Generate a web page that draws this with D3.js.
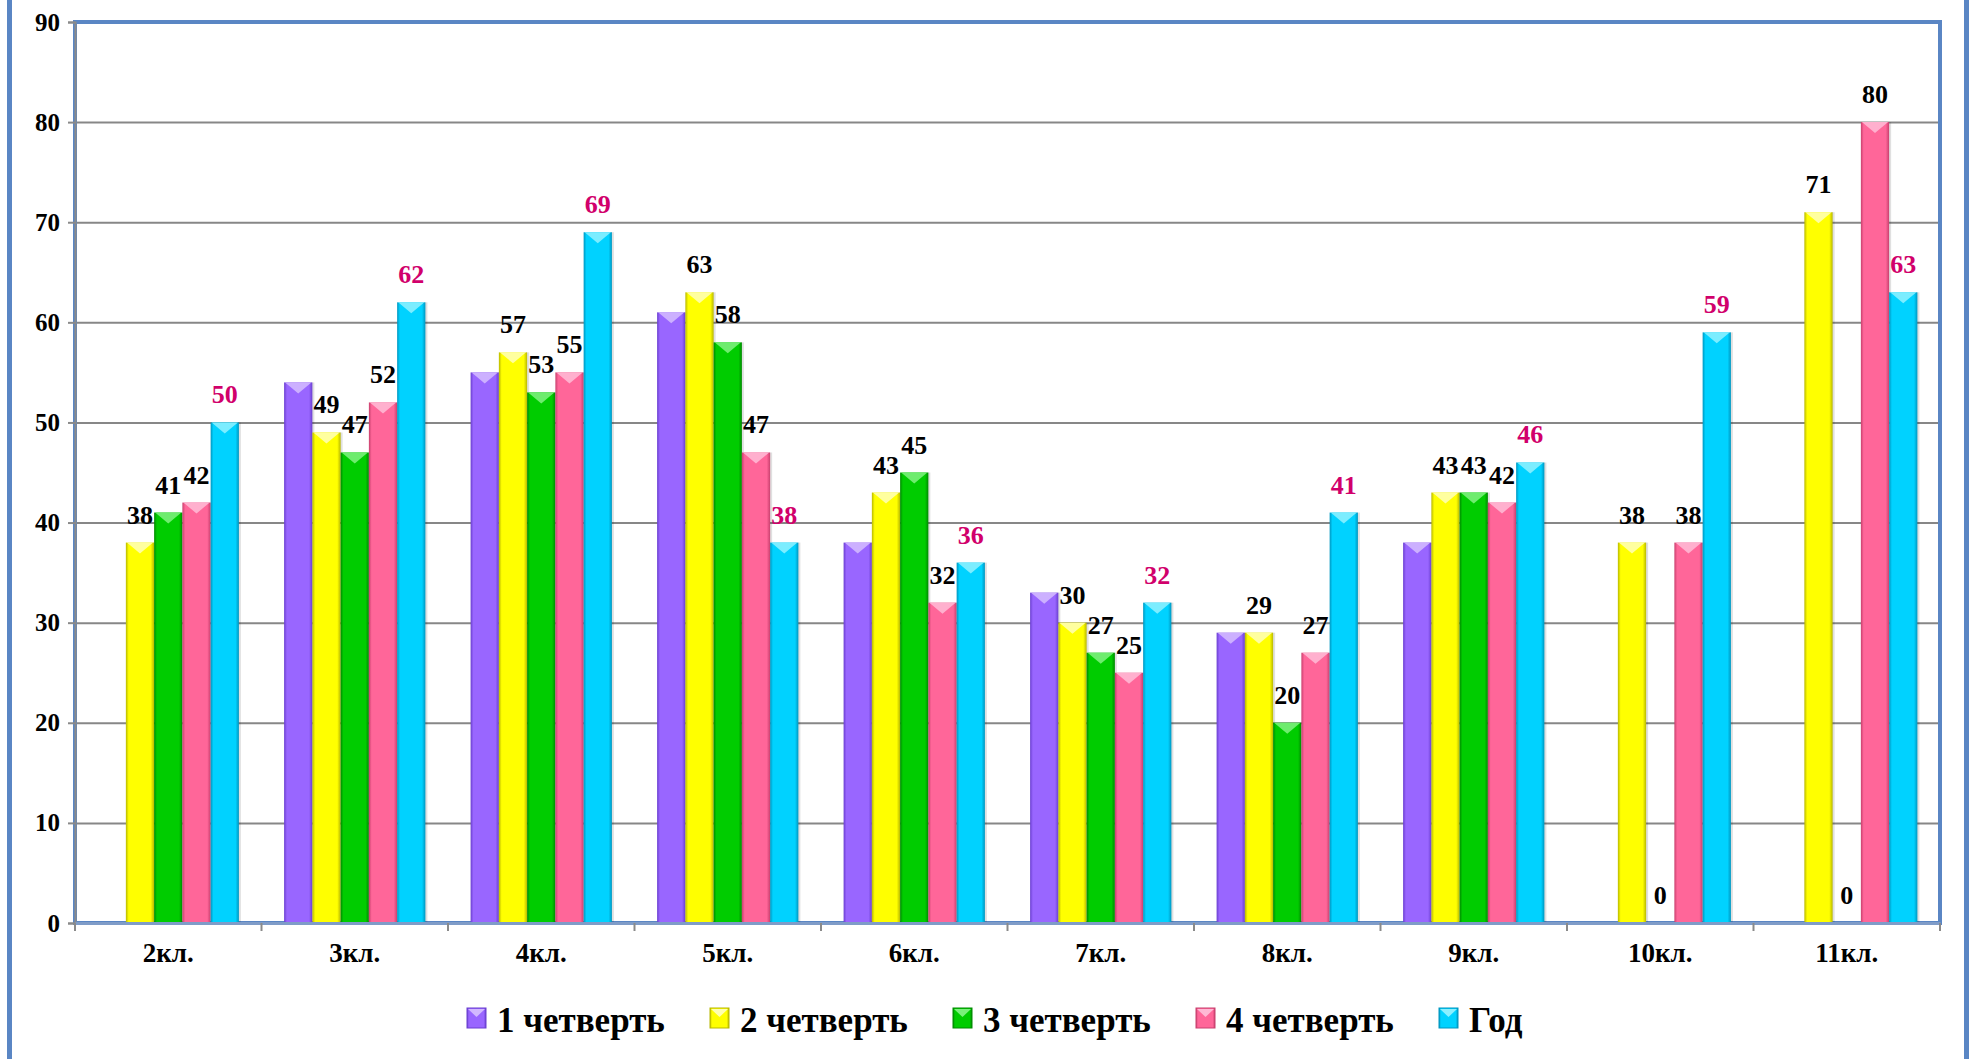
<!DOCTYPE html>
<html>
<head>
<meta charset="utf-8">
<script src="https://cdn.jsdelivr.net/npm/d3@7"></script>
<style>
  body { margin: 0; background: #fff; }
  svg { display: block; }
  text { font-family: "Liberation Serif", "Times New Roman", serif; font-weight: bold; }
</style>
</head>
<body>
<div id="chart"></div>
<script>
var categories = ["2кл.", "3кл.", "4кл.", "5кл.", "6кл.", "7кл.", "8кл.", "9кл.", "10кл.", "11кл."];
var seriesNames = ["1 четверть", "2 четверть", "3 четверть", "4 четверть", "Год"];
var q1 = [null, 54, 55, 61, 38, 33, 29, 38, null, null];
var q2 = [38, 49, 57, 63, 43, 30, 29, 43, 38, 71];
var q3 = [41, 47, 53, 58, 45, 27, 20, 43, 0, 0];
var q4 = [42, 52, 55, 47, 32, 25, 27, 42, 38, 80];
var year = [50, 62, 69, 38, 36, 32, 41, 46, 59, 63];
var yTicks = [0, 10, 20, 30, 40, 50, 60, 70, 80, 90];

var seriesValues = [q1, q2, q3, q4, year];
var colors = ["#9966ff", "#ffff00", "#00cc00", "#ff6699", "#00d2ff"];
var darks = ["#6a3fd0", "#b8b800", "#008a00", "#c8406e", "#0096c0"];
var lights = ["#d2b8ff", "#ffffb0", "#7af07a", "#ffb8d4", "#8af0ff"];

var width = 1970,
    height = 1059,
    pLeft = 75, pRight = 1940, pTop = 22, pBottom = 923;

var svg = d3.select("#chart")
    .append("svg")
    .attr("width", width)
    .attr("height", height);

var defs = svg.append("defs");
colors.forEach(function (c, i) {
    var g = defs.append("linearGradient")
        .attr("id", "grad" + i)
        .attr("x1", "0").attr("x2", "1").attr("y1", "0").attr("y2", "0");
    g.append("stop").attr("offset", "0").attr("stop-color", darks[i]);
    g.append("stop").attr("offset", "0.1").attr("stop-color", c);
    g.append("stop").attr("offset", "0.88").attr("stop-color", c);
    g.append("stop").attr("offset", "1").attr("stop-color", darks[i]);
});

// outer frame lines
svg.append("rect").attr("x", 7).attr("y", 0).attr("width", 5).attr("height", height).attr("fill", "#5a86c4");
svg.append("rect").attr("x", 1964).attr("y", 0).attr("width", 5).attr("height", height).attr("fill", "#5a86c4");

var x0 = d3.scaleBand()
    .domain(categories)
    .range([pLeft, pRight])
    .padding(0);

var x1 = d3.scaleBand()
    .domain(seriesNames)
    .range([0, x0.bandwidth()])
    .paddingInner(0)
    .paddingOuter(0.8);

var y = d3.scaleLinear()
    .domain([0, 90])
    .range([pBottom, pTop]);

// gridlines
svg.append("g")
    .attr("transform", "translate(" + pLeft + ",0)")
    .call(d3.axisLeft(y).tickValues(yTicks).tickSize(-(pRight - pLeft)).tickFormat(""))
    .call(function (g) {
        g.select(".domain").remove();
        g.selectAll("line").attr("stroke", "#878787").attr("stroke-width", 2);
    });

// plot frame
svg.append("rect")
    .attr("x", pLeft).attr("y", pTop)
    .attr("width", pRight - pLeft).attr("height", pBottom - pTop)
    .attr("fill", "none")
    .attr("stroke", "#5a86c4")
    .attr("stroke-width", 4);

// y axis
svg.append("g")
    .attr("transform", "translate(" + pLeft + ",0)")
    .call(d3.axisLeft(y).tickValues(yTicks).tickSize(7).tickPadding(8))
    .call(function (g) {
        g.select(".domain").attr("stroke", "#8a8a8a").attr("stroke-width", 2);
        g.selectAll("line").attr("stroke", "#8a8a8a").attr("stroke-width", 2);
        g.selectAll("text")
            .attr("fill", "#000")
            .style("font-size", "25px")
            .style("font-family", "'Liberation Serif', serif")
            .style("font-weight", "bold");
    });

// bars
var groups = svg.selectAll("g.cat")
    .data(categories)
    .enter().append("g")
    .attr("class", "cat")
    .attr("transform", function (d) { return "translate(" + x0(d) + ",0)"; });

var bars = groups.selectAll("g.bar")
    .data(function (d, ci) {
        return seriesNames.map(function (s, si) {
            return { series: s, si: si, value: seriesValues[si][ci] };
        });
    })
    .enter().append("g")
    .attr("class", "bar")
    .filter(function (d) { return d.value !== null && d.value > 0; });

bars.append("rect")
    .attr("x", function (d) { return x1(d.series) + 2; })
    .attr("y", function (d) { return y(d.value); })
    .attr("width", x1.bandwidth())
    .attr("height", function (d) { return pBottom - y(d.value); })
    .attr("fill", "#000")
    .attr("opacity", 0.12);

bars.append("rect")
    .attr("x", function (d) { return x1(d.series); })
    .attr("y", function (d) { return y(d.value); })
    .attr("width", x1.bandwidth())
    .attr("height", function (d) { return pBottom - y(d.value); })
    .attr("fill", function (d) { return "url(#grad" + d.si + ")"; });

// bevel highlight on top of each bar
bars.append("path")
    .attr("d", function (d) {
        var bx = x1(d.series), bw = x1.bandwidth(), by = y(d.value);
        return "M" + (bx + 1) + "," + by + "L" + (bx + bw - 1) + "," + by +
            "L" + (bx + bw / 2) + "," + (by + 11) + "Z";
    })
    .attr("fill", function (d) { return lights[d.si]; })
    .attr("opacity", 0.9);

// x axis
svg.append("g")
    .attr("transform", "translate(0," + pBottom + ")")
    .call(d3.axisBottom(x0).tickSize(0).tickPadding(20))
    .call(function (g) {
        g.select(".domain").attr("stroke", "#7f9cc8").attr("stroke-width", 3);
        g.selectAll("text")
            .attr("fill", "#000")
            .style("font-size", "27px")
            .style("font-family", "'Liberation Serif', serif")
            .style("font-weight", "bold");
    });

// category boundary ticks
var bounds = categories.map(function (c) { return x0(c); }).concat([pRight]);
svg.append("g").selectAll("line")
    .data(bounds)
    .enter().append("line")
    .attr("x1", function (d) { return d; })
    .attr("x2", function (d) { return d; })
    .attr("y1", pBottom)
    .attr("y2", pBottom + 8)
    .attr("stroke", "#8a8a8a")
    .attr("stroke-width", 2);

// value labels (first series has none)
groups.selectAll("text.val")
    .data(function (d, ci) {
        return seriesNames.map(function (s, si) {
            return { series: s, si: si, value: seriesValues[si][ci] };
        }).filter(function (d) { return d.si > 0 && d.value !== null; });
    })
    .enter().append("text")
    .attr("class", "val")
    .attr("x", function (d) { return x1(d.series) + x1.bandwidth() / 2; })
    .attr("y", function (d) { return y(d.value) - 19; })
    .attr("text-anchor", "middle")
    .attr("fill", function (d) { return d.si === 4 ? "#d1006b" : "#000"; })
    .style("font-size", "26px")
    .text(function (d) { return d.value; });

// legend
var legend = svg.append("g")
    .attr("transform", "translate(467,1008)");

var item = legend.selectAll("g")
    .data(seriesNames)
    .enter().append("g")
    .attr("transform", function (d, i) { return "translate(" + (i * 243) + ",0)"; });

item.append("rect")
    .attr("width", 19)
    .attr("height", 20)
    .attr("fill", function (d, i) { return "url(#grad" + i + ")"; })
    .attr("stroke", function (d, i) { return darks[i]; })
    .attr("stroke-width", 1);

item.append("path")
    .attr("d", "M1,1L18,1L9.5,9Z")
    .attr("fill", function (d, i) { return lights[i]; });

item.append("text")
    .attr("x", 30)
    .attr("y", 24)
    .style("font-size", "35px")
    .attr("fill", "#000")
    .text(function (d) { return d; });
</script>
</body>
</html>
